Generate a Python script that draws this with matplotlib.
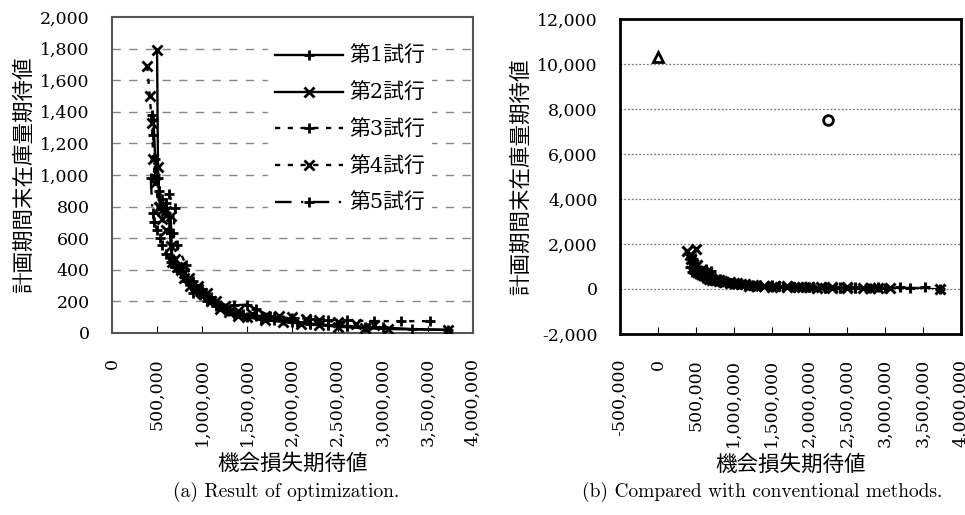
import numpy as np
import matplotlib.pyplot as plt
from matplotlib.ticker import FuncFormatter, MultipleLocator

# trial results (opportunity loss, end-of-period stock)
trial1_x = [460e3, 480e3, 510e3, 540e3, 580e3, 600e3, 630e3, 660e3, 700e3, 760e3, 820e3,
            900e3, 980e3, 1050e3, 1150e3, 1250e3, 1350e3, 1500e3, 1600e3, 1750e3, 1900e3,
            2050e3, 2200e3, 2400e3, 2600e3, 2800e3, 3000e3, 3330e3, 3720e3]
trial1_y = [1350, 1100, 980, 800, 790, 760, 740, 480, 420, 380, 330,
            250, 240, 200, 170, 160, 175, 180, 150, 110, 85,
            70, 60, 50, 45, 40, 35, 25, 20]

trial2_x = [500e3, 510e3, 530e3, 560e3, 600e3, 650e3, 670e3, 720e3, 760e3, 800e3, 870e3,
            950e3, 1000e3, 1100e3, 1200e3, 1300e3, 1400e3, 1500e3, 1700e3, 1900e3, 2100e3,
            2300e3, 2500e3, 2800e3, 3060e3, 3720e3]
trial2_y = [1790, 1050, 800, 780, 770, 740, 450, 420, 400, 350, 300,
            280, 250, 200, 150, 130, 110, 100, 80, 70, 60,
            50, 40, 30, 25, 20]

trial3_x = [440e3, 460e3, 480e3, 520e3, 560e3, 600e3, 630e3, 700e3, 680e3, 720e3, 820e3,
            900e3, 1000e3, 1100e3, 1200e3, 1300e3, 1450e3, 1600e3, 1800e3, 2000e3, 2200e3,
            2400e3, 2600e3, 2900e3, 3200e3, 3520e3]
trial3_y = [1380, 1250, 1000, 900, 850, 820, 880, 790, 630, 560, 430,
            330, 280, 230, 180, 140, 120, 110, 100, 95, 90,
            85, 80, 75, 75, 75]

trial4_x = [390e3, 420e3, 440e3, 460e3, 480e3, 520e3, 560e3, 600e3, 650e3, 700e3, 750e3,
            800e3, 850e3, 950e3, 1050e3, 1150e3, 1250e3, 1400e3, 1550e3, 1700e3, 1850e3,
            2000e3, 2150e3, 2300e3, 2500e3, 2700e3, 2900e3]
trial4_y = [1690, 1500, 1330, 1100, 950, 800, 720, 650, 550, 470, 420,
            380, 350, 300, 250, 200, 170, 140, 120, 110, 105,
            100, 90, 80, 70, 60, 50]

trial5_x = [430e3, 450e3, 470e3, 500e3, 530e3, 560e3, 600e3, 650e3, 700e3, 760e3, 830e3,
            900e3, 980e3, 1060e3, 1150e3, 1250e3, 1350e3, 1500e3, 1650e3, 1800e3, 2000e3,
            2200e3, 2400e3, 2600e3]
trial5_y = [980, 760, 700, 650, 600, 560, 500, 450, 420, 380, 330,
            300, 260, 220, 180, 150, 120, 100, 90, 80, 70,
            60, 50, 45]

labels = ["第1試行", "第2試行", "第3試行", "第4試行", "第5試行"]

# conventional methods
conv_tri = (0, 10300)
conv_circ = (2240e3, 7500)

xs = [trial1_x, trial2_x, trial3_x, trial4_x, trial5_x]
ys = [trial1_y, trial2_y, trial3_y, trial4_y, trial5_y]
markers = ['+', 'x', '+', 'x', '+']
styles = ['-', '-', (0, (2.2, 3.2)), (0, (2.2, 3.2)), (0, (7, 4, 1, 4))]

num_font = 'DejaVu Serif'
jp_font = ['Noto Sans CJK JP', 'DejaVu Sans']
comma = FuncFormatter(lambda v, p: f"{int(round(v)):,}")

fig = plt.figure(figsize=(9.65, 5.15), dpi=100)

# (a) result of optimization
ax1 = fig.add_axes([0.116, 0.3534, 0.374, 0.6136])
for i in range(5):
    ax1.plot(xs[i], ys[i], color='black', linestyle=styles[i], lw=1.7,
             marker=markers[i], ms=6.5, mew=2, label=labels[i], zorder=3)
ax1.set_xlim(0, 4e6)
ax1.set_ylim(0, 2000)
ax1.xaxis.set_major_locator(MultipleLocator(500000))
ax1.yaxis.set_major_locator(MultipleLocator(200))
ax1.xaxis.set_major_formatter(comma)
ax1.yaxis.set_major_formatter(comma)
for yv in range(200, 2000, 200):
    ax1.axhline(yv, color='#888888', lw=1.0, linestyle=(0, (6, 6)), zorder=1)
leg = ax1.legend(loc='upper right', bbox_to_anchor=(0.915, 0.96), frameon=True,
                 facecolor='white', edgecolor='none', framealpha=1,
                 handlelength=3.3, handletextpad=0.3, labelspacing=0.8,
                 borderpad=0.3, prop={'family': [num_font, 'Noto Sans CJK JP'], 'size': 15})
leg.set_zorder(5)
for s in ax1.spines.values():
    s.set_color('#555555')
    s.set_linewidth(1.5)

# (b) compared with conventional methods
ax2 = fig.add_axes([0.6425, 0.3515, 0.3534, 0.6117])
for i in range(5):
    ax2.plot(xs[i], ys[i], color='black', linestyle='-', lw=0.8,
             marker=markers[i], ms=7, mew=2.2, zorder=3)
ax2.plot([conv_tri[0]], [conv_tri[1]], marker='^', ms=7, mfc='white', mec='black',
         mew=2, linestyle='none', zorder=3)
ax2.plot([conv_circ[0]], [conv_circ[1]], marker='o', ms=7, mfc='white', mec='black',
         mew=2, linestyle='none', zorder=3)
ax2.set_xlim(-500000, 4e6)
ax2.set_ylim(-2000, 12000)
ax2.xaxis.set_major_locator(MultipleLocator(500000))
ax2.yaxis.set_major_locator(MultipleLocator(2000))
ax2.xaxis.set_major_formatter(comma)
ax2.yaxis.set_major_formatter(comma)
for yv in range(0, 12000, 2000):
    ax2.axhline(yv, color='#777777', lw=0.9, linestyle=(0, (1.5, 1.5)), zorder=1)
for s in ax2.spines.values():
    s.set_color('black')
    s.set_linewidth(2)

for ax in (ax1, ax2):
    ax.tick_params(axis='x', direction='in', length=5, width=0.8, pad=18,
                   labelrotation=90, labelsize=12.5)
    ax.tick_params(axis='y', length=0, pad=16, labelsize=12.5)
    for t in ax.get_xticklabels() + ax.get_yticklabels():
        t.set_fontfamily(num_font)
    ax.set_xlabel("機会損失期待値", family=jp_font, fontsize=15.5, labelpad=5)
    ax.set_ylabel("計画期間末在庫量期待値", family=jp_font, fontsize=15.5, labelpad=4)

fig.text(0.296, 0.045, "(a) Result of optimization.", family='cmr10', fontsize=14,
         ha='center', va='center')
fig.text(0.79, 0.045, "(b) Compared with conventional methods.", family='cmr10',
         fontsize=14, ha='center', va='center')

fig.savefig('out.png', dpi=100)
